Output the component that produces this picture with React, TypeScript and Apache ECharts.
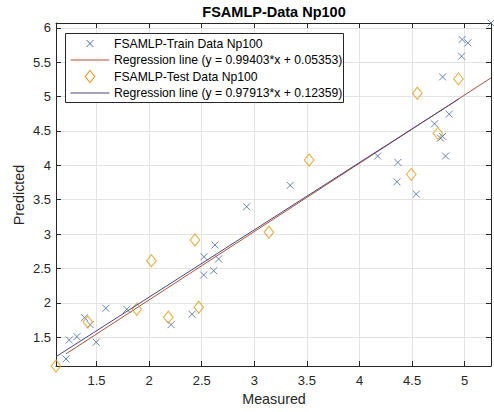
import React, { useEffect, useRef } from "react";
import * as echarts from "echarts";

const chartTitle = "FSAMLP-Data Np100";
const xAxisName = "Measured";
const yAxisName = "Predicted";

const trainName = "FSAMLP-Train Data Np100";
const trainLineName = "Regression line (y = 0.99403*x + 0.05353)";
const testName = "FSAMLP-Test Data Np100";
const testLineName = "Regression line (y = 0.97913*x + 0.12359)";

const trainX = [1.21, 1.241, 1.314, 1.386, 1.44, 1.497, 1.589, 1.788, 2.209, 2.408, 2.519, 2.522, 2.614, 2.661, 2.626, 2.927, 3.341, 4.173, 4.365, 4.356, 4.54, 4.818, 4.77, 4.79, 4.713, 4.853, 4.79, 4.97, 4.976, 5.03, 5.25];
const trainY = [1.183, 1.459, 1.507, 1.783, 1.682, 1.426, 1.92, 1.905, 1.682, 1.833, 2.404, 2.67, 2.467, 2.637, 2.84, 3.397, 3.708, 4.134, 4.042, 3.76, 3.581, 4.134, 4.395, 4.42, 4.603, 4.744, 5.286, 5.587, 5.83, 5.781, 6.07];

const testX = [1.115, 1.418, 1.883, 2.022, 2.183, 2.472, 2.436, 3.139, 3.521, 4.492, 4.745, 4.549, 4.941];
const testY = [1.08, 1.721, 1.905, 2.612, 1.789, 1.935, 2.913, 3.025, 4.076, 3.868, 4.464, 5.049, 5.257];

const trainSlope = 0.99403;
const trainIntercept = 0.05353;
const testSlope = 0.97913;
const testIntercept = 0.12359;

const xLimits = [1.115, 5.25];
const yLimits = [1.08, 6.07];

const FONT = "'Liberation Sans', Arial, Helvetica, sans-serif";
const AXIS_COLOR = "#262626";
const GRID_COLOR = "#e3e3e3";
const TRAIN_COLOR = "#4565a0";
const TEST_COLOR = "#dca22a";
const TRAIN_LINE_COLOR = "#a8533e";
const TEST_LINE_COLOR = "#4a4676";

function regressionLine(xs: number[], slope: number, intercept: number) {
  const lo = Math.min(...xs);
  const hi = Math.max(...xs);
  return [
    [lo, slope * lo + intercept],
    [hi, slope * hi + intercept],
  ];
}

function legendGraphic() {
  const left = 65.5;
  const top = 33.5;
  const width = 278;
  const height = 69;
  const rowY = [43.5, 60, 76.5, 93];
  const iconL = 70.5;
  const iconR = 109.5;
  const iconC = 90;
  const textX = 114;
  const els: any[] = [
    {
      type: "rect",
      shape: { x: left, y: top, width, height },
      style: { fill: "#ffffff", stroke: AXIS_COLOR, lineWidth: 1 },
      z: 100,
    },
    {
      type: "line",
      shape: { x1: iconC - 3.5, y1: rowY[0] - 3.5, x2: iconC + 3.5, y2: rowY[0] + 3.5 },
      style: { stroke: TRAIN_COLOR, lineWidth: 1 },
      z: 101,
    },
    {
      type: "line",
      shape: { x1: iconC - 3.5, y1: rowY[0] + 3.5, x2: iconC + 3.5, y2: rowY[0] - 3.5 },
      style: { stroke: TRAIN_COLOR, lineWidth: 1 },
      z: 101,
    },
    {
      type: "line",
      shape: { x1: iconL, y1: rowY[1], x2: iconR, y2: rowY[1] },
      style: { stroke: TRAIN_LINE_COLOR, lineWidth: 1 },
      z: 101,
    },
    {
      type: "polygon",
      shape: {
        points: [
          [iconC, rowY[2] - 6],
          [iconC + 4.75, rowY[2]],
          [iconC, rowY[2] + 6],
          [iconC - 4.75, rowY[2]],
        ],
      },
      style: { fill: "none", stroke: TEST_COLOR, lineWidth: 1.2 },
      z: 101,
    },
    {
      type: "line",
      shape: { x1: iconL, y1: rowY[3], x2: iconR, y2: rowY[3] },
      style: { stroke: TEST_LINE_COLOR, lineWidth: 1 },
      z: 101,
    },
  ];
  const names = [trainName, trainLineName, testName, testLineName];
  names.forEach((n, i) => {
    els.push({
      type: "text",
      x: textX,
      y: rowY[i],
      style: {
        text: n,
        font: `12.2px ${FONT}`,
        fill: "#000",
        align: "left",
        verticalAlign: "middle",
      },
      z: 101,
    });
  });
  return els;
}

export default function App() {
  const ref = useRef<HTMLDivElement>(null);

  useEffect(() => {
    if (!ref.current) return;
    const chart = echarts.init(ref.current, undefined, { renderer: "svg" });

    const trainData = trainX.map((x, i) => [x, trainY[i]]);
    const testData = testX.map((x, i) => [x, testY[i]]);

    const baseX = {
      type: "value" as const,
      min: xLimits[0],
      max: xLimits[1],
      splitNumber: 8,
    };
    const baseY = {
      type: "value" as const,
      min: yLimits[0],
      max: yLimits[1],
      splitNumber: 10,
    };

    const option: any = {
      animation: false,
      backgroundColor: "#ffffff",
      textStyle: { fontFamily: FONT },
      grid: { left: 56, right: 3, top: 23, bottom: 46, containLabel: false },
      graphic: [
        {
          type: "text",
          x: 274,
          y: 12,
          style: {
            text: chartTitle,
            font: `bold 14.5px ${FONT}`,
            fill: "#000",
            align: "center",
            verticalAlign: "middle",
          },
        },
        {
          type: "text",
          x: 274,
          y: 399,
          style: {
            text: xAxisName,
            font: `14.3px ${FONT}`,
            fill: AXIS_COLOR,
            align: "center",
            verticalAlign: "middle",
          },
        },
        {
          type: "text",
          x: 19,
          y: 195,
          rotation: Math.PI / 2,
          style: {
            text: yAxisName,
            font: `14.3px ${FONT}`,
            fill: AXIS_COLOR,
            align: "center",
            verticalAlign: "middle",
          },
        },
        ...legendGraphic(),
      ],
      xAxis: [
        {
          ...baseX,
          position: "bottom",
          axisLine: { show: true, onZero: false, lineStyle: { color: AXIS_COLOR, width: 1 } },
          axisTick: { show: true, inside: true, length: 5, lineStyle: { color: AXIS_COLOR } },
          axisLabel: {
            show: true,
            showMinLabel: false,
            showMaxLabel: false,
            color: AXIS_COLOR,
            fontSize: 13,
            fontFamily: FONT,
            margin: 8,
          },
          splitLine: { show: true, lineStyle: { color: GRID_COLOR, width: 1 } },
        },
        {
          ...baseX,
          position: "top",
          axisLine: { show: true, onZero: false, lineStyle: { color: AXIS_COLOR, width: 1 } },
          axisTick: { show: true, inside: true, length: 5, lineStyle: { color: AXIS_COLOR } },
          axisLabel: { show: false },
          splitLine: { show: false },
        },
      ],
      yAxis: [
        {
          ...baseY,
          position: "left",
          axisLine: { show: true, onZero: false, lineStyle: { color: AXIS_COLOR, width: 1 } },
          axisTick: { show: true, inside: true, length: 5, lineStyle: { color: AXIS_COLOR } },
          axisLabel: {
            show: true,
            showMinLabel: false,
            showMaxLabel: false,
            color: AXIS_COLOR,
            fontSize: 13,
            fontFamily: FONT,
            margin: 5,
          },
          splitLine: { show: true, lineStyle: { color: GRID_COLOR, width: 1 } },
        },
        {
          ...baseY,
          position: "right",
          axisLine: { show: true, onZero: false, lineStyle: { color: AXIS_COLOR, width: 1 } },
          axisTick: { show: true, inside: true, length: 5, lineStyle: { color: AXIS_COLOR } },
          axisLabel: { show: false },
          splitLine: { show: false },
        },
      ],
      series: [
        {
          name: trainName,
          type: "scatter",
          data: trainData,
          clip: false,
          symbol: "path://M0,0L10,10M10,0L0,10",
          symbolSize: 7,
          itemStyle: { color: "rgba(0,0,0,0)", borderColor: TRAIN_COLOR, borderWidth: 1 },
          z: 3,
        },
        {
          name: trainLineName,
          type: "line",
          data: regressionLine(trainX, trainSlope, trainIntercept),
          symbol: "none",
          lineStyle: { color: TRAIN_LINE_COLOR, width: 1 },
          itemStyle: { color: TRAIN_LINE_COLOR },
          z: 4,
        },
        {
          name: testName,
          type: "scatter",
          data: testData,
          clip: false,
          symbol: "diamond",
          symbolSize: [9.5, 12],
          itemStyle: { color: "rgba(0,0,0,0)", borderColor: TEST_COLOR, borderWidth: 1.2 },
          z: 5,
        },
        {
          name: testLineName,
          type: "line",
          data: regressionLine(testX, testSlope, testIntercept),
          symbol: "none",
          lineStyle: { color: TEST_LINE_COLOR, width: 1 },
          itemStyle: { color: TEST_LINE_COLOR },
          z: 6,
        },
      ],
    };

    chart.setOption(option);
    return () => chart.dispose();
  }, []);

  return (
    <div
      ref={ref}
      style={{ position: "fixed", left: 0, top: 0, width: 494, height: 412, background: "#fff" }}
    />
  );
}
